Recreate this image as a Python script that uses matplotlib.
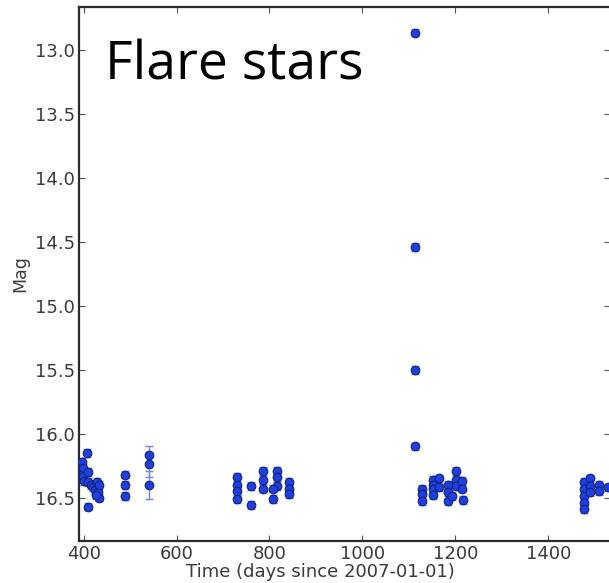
import matplotlib
matplotlib.use("Agg")
import matplotlib.pyplot as plt
import numpy as np

plt.rcParams['font.family'] = ['DejaVu Sans']

# Observation times (days since 2007-01-01) and magnitudes
time_days = [
    397, 398, 399, 401, 408, 409, 410, 409, 416, 420, 424, 428, 430, 432, 433, 426,
    489, 489, 489,
    541, 541, 541,
    730, 730, 730, 730, 760, 760, 787, 787, 787, 816, 816, 816, 807, 807, 841, 841, 841,
    1113, 1113, 1113, 1113,
    1128, 1128, 1128, 1153, 1153, 1153, 1153, 1164, 1164, 1185, 1185, 1185,
    1202, 1202, 1202, 1214, 1214, 1216, 1193,
    1476, 1476, 1476, 1476, 1476, 1490, 1490, 1490, 1510, 1510, 1529,
]
magnitude = [
    16.22, 16.27, 16.33, 16.37, 16.15, 16.30, 16.38, 16.57, 16.40, 16.42, 16.44, 16.38, 16.46, 16.50, 16.40, 16.48,
    16.32, 16.40, 16.49,
    16.17, 16.24, 16.40,
    16.34, 16.40, 16.45, 16.51, 16.41, 16.56, 16.29, 16.36, 16.43, 16.29, 16.34, 16.41, 16.51, 16.43, 16.38, 16.43, 16.47,
    12.86, 14.54, 15.50, 16.10,
    16.43, 16.47, 16.53, 16.36, 16.40, 16.43, 16.48, 16.35, 16.42, 16.40, 16.46, 16.53,
    16.29, 16.36, 16.41, 16.37, 16.43, 16.52, 16.49,
    16.38, 16.43, 16.49, 16.54, 16.59, 16.35, 16.41, 16.46, 16.40, 16.45, 16.42,
]
mag_error = [0.03] * len(magnitude)
mag_error[19] = 0.07
mag_error[20] = 0.10
mag_error[21] = 0.11

x_ticks = [400, 600, 800, 1000, 1200, 1400]
y_ticks = [13.0, 13.5, 14.0, 14.5, 15.0, 15.5, 16.0, 16.5]

W, H = 609, 583
fig = plt.figure(figsize=(W / 100, H / 100), dpi=100)
ax = fig.add_axes([79 / W, 1 - 541 / H, (610 - 79) / W, (541 - 7) / H])

ax.errorbar(time_days, magnitude, yerr=mag_error, fmt='none', ecolor='#6f84f0',
            elinewidth=1.0, capsize=3, capthick=1.0, zorder=2)
ax.plot(time_days, magnitude, 'o', color='#1f3fe6', markeredgecolor='#13246e',
        markeredgewidth=0.8, markersize=6.2, zorder=3)

ax.set_xlim(390, 1533)
ax.set_ylim(16.84, 12.66)
ax.set_xticks(x_ticks)
ax.set_yticks(y_ticks)
ax.set_yticklabels([f"{v:.1f}" for v in y_ticks])

ax.tick_params(direction='in', length=4, width=0.8, color='#555555',
               top=True, right=True, labelsize=13, labelcolor='#3a3a3a', pad=3)
for s in ax.spines.values():
    s.set_linewidth(1.6)
    s.set_color('#2b2b2b')

ax.set_xlabel("Time (days since 2007-01-01)", fontsize=13, color='#3a3a3a')
ax.xaxis.set_label_coords((320 - 79) / 531, -0.042)
ax.set_ylabel("Mag", fontsize=12.5, color='#3a3a3a', labelpad=4)

fig.text(105 / W, 1 - 80 / H, "Flare stars", fontsize=38.5, family='Open Sans',
         color='black', ha='left', va='baseline')

fig.savefig("out.png", dpi=100)
